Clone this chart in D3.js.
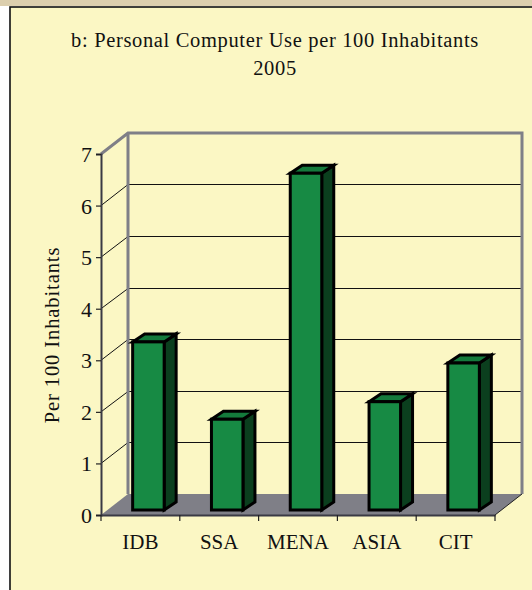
<!DOCTYPE html>
<html><head><meta charset="utf-8">
<script src="https://cdn.jsdelivr.net/npm/d3@7"></script>
<style>html,body{margin:0;padding:0;background:#fff}svg{display:block}text{font-family:"Liberation Serif",serif;fill:#111}</style>
</head><body><div id="c"></div>
<script>
const categories=["IDB","SSA","MENA","ASIA","CIT"];
const values=[3.26,1.76,6.53,2.1,2.85];
const yTicks=[0,1,2,3,4,5,6,7];
const titleLines=["b: Personal Computer Use per 100 Inhabitants","2005"];
const yTitle="Per 100 Inhabitants";

const W=532,H=590;
const svg=d3.select("#c").append("svg").attr("width",W).attr("height",H);
const x=d3.scaleBand().domain(categories).range([101,495]);
const y=d3.scaleLinear().domain([0,7]).range([515,154]);
const depth={x:27,y:-21}, barD={x:12,y:-8}, barBase={x:4,y:-5};
const gridY=v=>Math.floor(y(v)-20.6)+0.5;
const barW=31.5;
const grey="#7f7f87", dark="#3a3a44";

svg.append("rect").attr("width",W).attr("height",6).attr("fill","#dccfae");
svg.append("rect").attr("x",10).attr("y",7).attr("width",W).attr("height",H).attr("fill","#fbf7c4").attr("stroke","#111").attr("stroke-width",1.6);

// title
svg.append("g").selectAll("text").data(titleLines).join("text")
 .attr("x",275).attr("y",(d,i)=>47+i*27.5).attr("text-anchor","middle").attr("font-size",20.5).attr("letter-spacing",0.65).text(d=>d);
svg.append("text").attr("transform","translate(59,335) rotate(-90)").attr("text-anchor","middle").attr("font-size",20.5).attr("letter-spacing",0.9).text(yTitle);

// floor
const x0=x.range()[0],x1=x.range()[1],yb=y(0),yt=y(7);
svg.append("path").attr("fill",grey).attr("d",`M${x0},${yb}L${x0+depth.x},${yb+depth.y}L${x1+depth.x},${yb+depth.y}L${x1},${yb}Z`);

// back wall gridlines
svg.append("g").selectAll("line").data(yTicks.slice(1,7)).join("line")
 .attr("x1",x0+depth.x).attr("x2",x1+depth.x).attr("y1",gridY).attr("y2",gridY)
 .attr("stroke","#111").attr("stroke-width",1);
svg.append("g").selectAll("line").data(yTicks.slice(1,7)).join("line")
 .attr("x1",x0).attr("x2",x0+depth.x).attr("y1",d=>y(d)).attr("y2",gridY)
 .attr("stroke","#111").attr("stroke-width",1);

// wall frame
svg.append("path").attr("fill","none").attr("stroke",grey).attr("stroke-width",3)
 .attr("d",`M${x0},${yt}L${x0+depth.x},${yt+depth.y}L${x1+depth.x},${yt+depth.y}L${x1+depth.x},${yb+depth.y}M${x0+depth.x},${yt+depth.y}L${x0+depth.x},${yb+depth.y}`);
svg.append("path").attr("fill","none").attr("stroke","#222").attr("stroke-width",1)
 .attr("d",`M${x1},${yb}L${x1+depth.x},${yb+depth.y}`);

// axes
const yAxis=svg.append("g").attr("transform",`translate(${x0},0)`).call(d3.axisLeft(y).tickValues(yTicks).tickSize(5).tickPadding(4).tickFormat(d3.format("d")));
yAxis.select(".domain").attr("stroke",dark).attr("stroke-width",2);
yAxis.selectAll("line").attr("stroke","#222").attr("stroke-width",1.2);
yAxis.selectAll("text").attr("font-size",22).attr("font-family","Liberation Serif").attr("fill","#111").attr("dy","0.34em");
const xAxis=svg.append("g").attr("transform",`translate(0,${yb})`).call(d3.axisBottom(x).tickSize(0).tickPadding(19));
xAxis.select(".domain").attr("stroke",dark).attr("stroke-width",2);
xAxis.selectAll("text").attr("font-size",21).attr("font-family","Liberation Serif").attr("fill","#111");
svg.append("g").selectAll("line").data(d3.range(6)).join("line")
 .attr("x1",i=>x0+i*x.step()).attr("x2",i=>x0+i*x.step()).attr("y1",yb).attr("y2",yb+6)
 .attr("stroke","#222").attr("stroke-width",1.2);

// bars
const fx=d=>x(d)+x.bandwidth()/2+barBase.x+4-barW/2;
const base=yb+barBase.y;
const barTop=v=>y(v)+barBase.y;
const bars=svg.append("g").selectAll("g").data(categories.map((c,i)=>({c,v:values[i]}))).join("g")
 .attr("stroke","#000").attr("stroke-width",3).attr("stroke-linejoin","miter");
bars.append("path").attr("fill","#0b3f1e").attr("d",d=>{const l=fx(d.c)+barW,t=barTop(d.v);return `M${l},${base}L${l},${t}L${l+barD.x},${t+barD.y}L${l+barD.x},${base+barD.y}Z`;});
bars.append("path").attr("fill","#147a3c").attr("d",d=>{const l=fx(d.c),t=barTop(d.v);return `M${l},${t}L${l+barD.x},${t+barD.y}L${l+barW+barD.x},${t+barD.y}L${l+barW},${t}Z`;});
bars.append("rect").attr("fill","#178a44").attr("x",d=>fx(d.c)).attr("y",d=>barTop(d.v)).attr("width",barW).attr("height",d=>base-barTop(d.v));
</script></body></html>
